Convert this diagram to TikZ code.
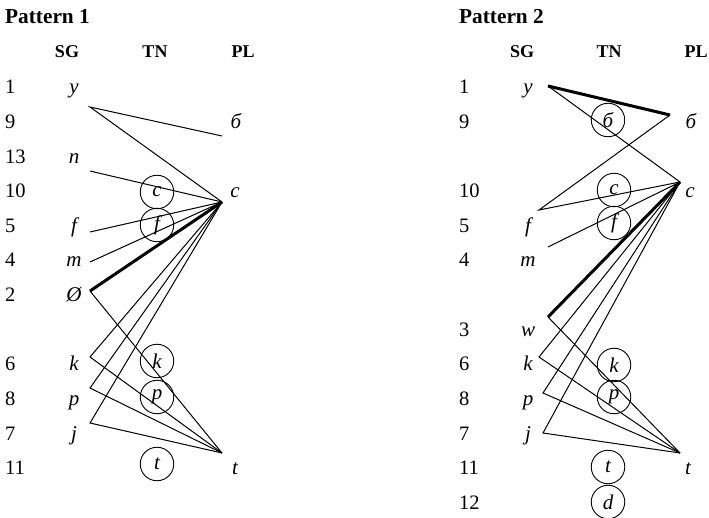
\documentclass[tikz,border=0pt]{standalone}
\usepackage{fontspec}
\setmainfont{Liberation Serif}
\begin{document}
\begin{tikzpicture}[x=1pt,y=-1pt,
  title/.style={font=\fontsize{21.3}{24}\selectfont\bfseries, anchor=base west, inner sep=0},
  head/.style={font=\fontsize{18}{20}\selectfont\bfseries, anchor=base, inner sep=0},
  num/.style={font=\fontsize{20.5}{22}\selectfont, anchor=base west, inner sep=0},
  lett/.style={font=\fontsize{21}{22}\selectfont\itshape, anchor=base, inner sep=0},
  circ/.style={circle, draw, line width=0.9pt, minimum size=33.5pt, inner sep=0, font=\fontsize{21}{22}\selectfont\itshape},
  thin/.style={line width=1pt},
  thick/.style={line width=3pt}]
\useasboundingbox (0,0) rectangle (709,518);
% ---------- Pattern 1 ----------
\node[title] (t1) at (5,24) {Pattern 1};
\node[head] (sg1) at (67,58) {SG};
\node[head] (tn1) at (155,58) {TN};
\node[head] (pl1) at (243,58) {PL};
\foreach \n/\r [count=\i] in {1/0,9/1,13/2,10/3,5/4,4/5,2/6,6/8,8/9,7/10,11/11}{
  \node[num] (na\i) at (5,{94+34.6*\r}) {\n};
}
\foreach \l/\r [count=\i] in {y/0,n/2,f/4,m/5,Ø/6,k/8,p/9,j/10}{
  \node[lett] (sa\i) at (74,{94+34.6*\r}) {\l};
}
\node[lett] (pa1) at (236,{94+34.6*1}) {б};
\node[lett] (pa2) at (235,{94+34.6*3}) {c};
\node[lett] (pa3) at (235,{94+34.6*11}) {t};
\node[circ] (ca1) at (157,192) {c};
\node[circ] (ca2) at (157,225) {f};
\node[circ] (ca3) at (157,361) {k};
\node[circ] (ca4) at (157,397) {p};
\node[circ] (ca5) at (157,464) {t};
\coordinate (Y1) at (90,107);
\coordinate (B1) at (222,136);
\coordinate (C1) at (222,202);
\coordinate (N1) at (90,171);
\coordinate (F1) at (90,232);
\coordinate (M1) at (90,262);
\coordinate (O1) at (90,291);
\coordinate (K1) at (90,357);
\coordinate (P1) at (90,388);
\coordinate (J1) at (90,423);
\coordinate (T1) at (222,453);
\draw[thin] (B1) -- (Y1) -- (C1);
\draw[thin] (N1) -- (C1);
\draw[thin] (F1) -- (C1);
\draw[thin] (M1) -- (C1);
\draw[thick] (O1) -- (C1);
\draw[thin] (O1) -- (T1);
\draw[thin] (C1) -- (K1) -- (T1);
\draw[thin] (C1) -- (P1) -- (T1);
\draw[thin] (C1) -- (J1) -- (T1);
% ---------- Pattern 2 ----------
\node[title] (t2) at (459,24) {Pattern 2};
\node[head] (sg2) at (522,58) {SG};
\node[head] (tn2) at (609,58) {TN};
\node[head] (pl2) at (696,58) {PL};
\foreach \n/\r [count=\i] in {1/0,9/1,10/3,5/4,4/5,3/7,6/8,8/9,7/10,11/11,12/12}{
  \node[num] (nb\i) at (459,{94+34.6*\r}) {\n};
}
\foreach \l/\r [count=\i] in {y/0,f/4,m/5,w/7,k/8,p/9,j/10}{
  \node[lett] (sb\i) at (528,{94+34.6*\r}) {\l};
}
\node[lett] (pb1) at (691,{94+34.6*1}) {б};
\node[lett] (pb2) at (690,{94+34.6*3}) {c};
\node[lett] (pb3) at (688,{94+34.6*11}) {t};
\node[circ] (cb1) at (608,120) {б};
\node[circ] (cb2) at (614,190) {c};
\node[circ] (cb3) at (614,223) {f};
\node[circ] (cb4) at (614,365) {k};
\node[circ] (cb5) at (614,397) {p};
\node[circ] (cb6) at (608,467) {t};
\node[circ] (cb7) at (608,502) {d};
\coordinate (Y2) at (548,86);
\coordinate (B2) at (670,115);
\coordinate (C2) at (680,182);
\coordinate (F2) at (539,210);
\coordinate (M2) at (548,247);
\coordinate (W2) at (548,317);
\coordinate (K2) at (539,357);
\coordinate (P2) at (543,393);
\coordinate (J2) at (543,433);
\coordinate (T2) at (680,453);
\draw[thick] (Y2) -- (B2);
\draw[thin] (Y2) -- (C2);
\draw[thin] (B2) -- (F2) -- (C2);
\draw[thin] (M2) -- (C2);
\draw[thick] (W2) -- (C2);
\draw[thin] (W2) -- (T2);
\draw[thin] (C2) -- (K2) -- (T2);
\draw[thin] (C2) -- (P2) -- (T2);
\draw[thin] (C2) -- (J2) -- (T2);
\end{tikzpicture}
\end{document}
